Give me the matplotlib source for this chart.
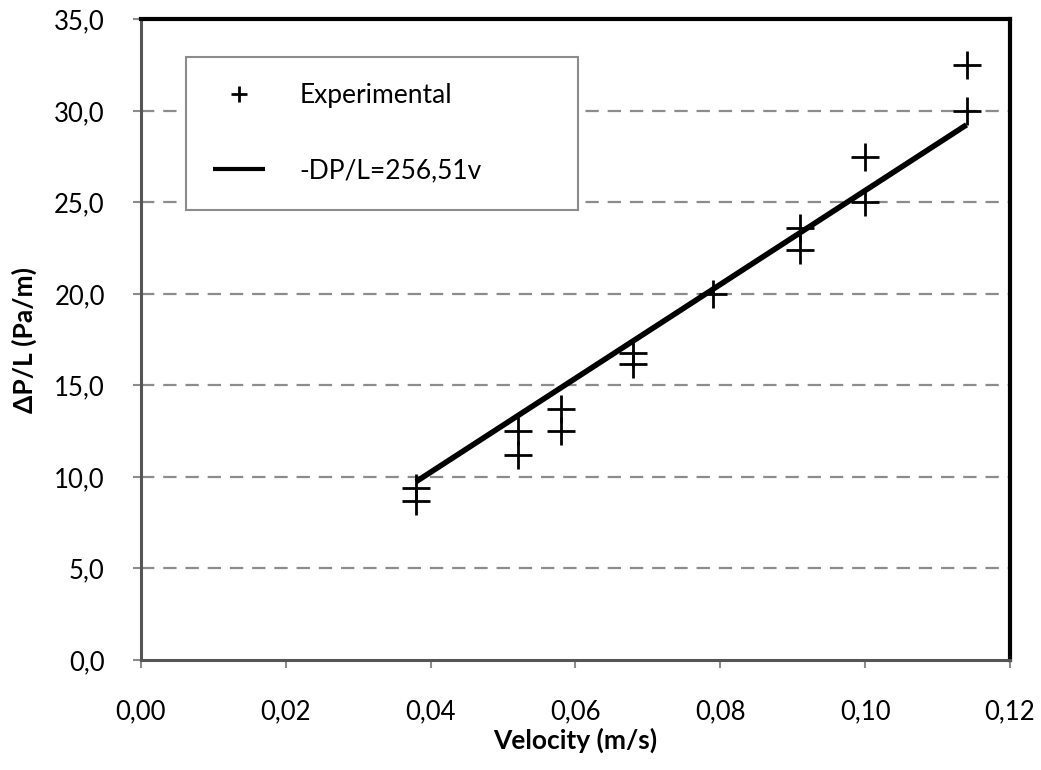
import matplotlib
matplotlib.use("Agg")
import matplotlib.pyplot as plt
import numpy as np

plt.rcParams['font.family'] = ['Lato', 'DejaVu Sans']

# Experimental points
velocity = [0.038, 0.038, 0.052, 0.052, 0.058, 0.058, 0.068, 0.068,
            0.079, 0.091, 0.091, 0.100, 0.100, 0.114, 0.114]
dp_over_l = [9.4, 8.7, 12.5, 11.2, 13.7, 12.5, 16.8, 16.2,
             20.0, 23.6, 22.4, 27.5, 25.0, 32.5, 30.0]

# Linear fit through origin
slope = 256.51
fit_v = np.array([min(velocity), max(velocity)])
fit_y = slope * fit_v

x_ticks = np.arange(0, 0.121, 0.02)
y_ticks = np.arange(0, 35.1, 5)

fig = plt.figure(figsize=(10.41, 7.70), dpi=100)
ax = fig.add_axes([0.1354, 0.1429, 0.8348, 0.8318])

ax.plot(velocity, dp_over_l, linestyle='none', marker='+', color='black',
        markersize=20, markeredgewidth=2, label='Experimental', zorder=3)
ax.plot(fit_v, fit_y, color='black', lw=4, solid_capstyle='butt',
        label='-DP/L=256,51v', zorder=4)

ax.set_xlim(0, 0.12)
ax.set_ylim(0, 35)
ax.set_xticks(x_ticks)
ax.set_yticks(y_ticks)
ax.set_xticklabels([f"{t:.2f}".replace('.', ',') for t in x_ticks])
ax.set_yticklabels([f"{t:.1f}".replace('.', ',') for t in y_ticks])

for y in y_ticks[1:-1]:
    ax.axhline(y, color='#8c8c8c', lw=1.6, dashes=(6, 4), zorder=1)

ax.tick_params(axis='both', direction='out', length=6, width=1.5,
               color='#8c8c8c', labelsize=18.5)
ax.tick_params(axis='x', pad=22)
ax.tick_params(axis='y', pad=20)

for side in ('left', 'bottom'):
    ax.spines[side].set_color('#555555')
    ax.spines[side].set_linewidth(2.2)
for side in ('top', 'right'):
    ax.spines[side].set_color('black')
    ax.spines[side].set_linewidth(3)

ax.set_xlabel('Velocity (m/s)', fontsize=19, fontweight='bold', labelpad=3)
ax.set_ylabel('ΔP/L (Pa/m)', fontsize=19, fontweight='bold', labelpad=12)

leg = ax.legend(loc='upper left', bbox_to_anchor=(0.052, 0.71, 0.451, 0.232),
                mode='expand', fontsize=19, frameon=True, fancybox=False,
                markerscale=0.55, handlelength=2.0, handletextpad=1.3,
                labelspacing=1.9, borderpad=1.0, borderaxespad=0)
leg.get_frame().set_edgecolor('#8c8c8c')
leg.get_frame().set_linewidth(1.5)
leg.get_frame().set_alpha(1)
leg.get_lines()[1].set_linewidth(3)

fig.savefig('out.png', dpi=100)
